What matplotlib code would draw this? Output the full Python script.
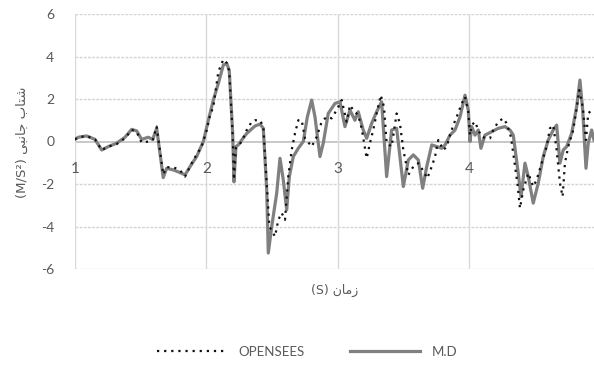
import matplotlib
matplotlib.use("Agg")
import matplotlib.pyplot as plt
from matplotlib.lines import Line2D

plt.rcParams['font.family'] = ['Lato', 'DejaVu Sans']

# ---- data ----
time_md = [1.000, 1.025, 1.089, 1.152, 1.203, 1.253, 1.317, 1.380, 1.431, 1.469,
           1.507, 1.557, 1.591, 1.621, 1.671, 1.697, 1.748, 1.798, 1.837, 1.875,
           1.925, 1.976, 2.014, 2.052, 2.090, 2.128, 2.154, 2.173, 2.199, 2.209,
           2.224, 2.242, 2.268, 2.306, 2.369, 2.407, 2.432, 2.458, 2.470, 2.496,
           2.534, 2.559, 2.584, 2.610, 2.630, 2.660, 2.698, 2.736, 2.767, 2.800,
           2.825, 2.863, 2.888, 2.926, 2.977, 3.015, 3.053, 3.091, 3.129, 3.154,
           3.192, 3.218, 3.256, 3.294, 3.332, 3.370, 3.408, 3.446, 3.471, 3.497,
           3.535, 3.573, 3.611, 3.644, 3.675, 3.713, 3.751, 3.789, 3.814, 3.852,
           3.890, 3.928, 3.966, 3.991, 4.004, 4.017, 4.042, 4.067, 4.087, 4.118,
           4.169, 4.219, 4.270, 4.308, 4.333, 4.371, 4.392, 4.422, 4.447, 4.485,
           4.523, 4.561, 4.599, 4.637, 4.663, 4.688, 4.713, 4.739, 4.777, 4.815,
           4.840, 4.861, 4.886, 4.903, 4.929, 4.947]
accel_md = [0.10, 0.20, 0.26, 0.10, -0.40, -0.24, -0.08, 0.20, 0.57, 0.50,
            0.10, 0.20, 0.10, 0.62, -1.70, -1.26, -1.34, -1.46, -1.57, -1.18,
            -0.71, 0.00, 1.00, 1.95, 2.73, 3.60, 3.67, 3.35, 0.40, -1.90,
            -0.24, -0.16, 0.07, 0.38, 0.73, 0.82, 0.62, -2.28, -5.25, -4.00,
            -2.43, -0.79, -1.81, -3.22, -1.65, -0.71, -0.32, 0.00, 1.16, 1.95,
            1.16, -0.71, -0.08, 1.32, 1.79, 1.87, 0.70, 1.48, 1.00, 1.40,
            0.54, 0.15, 0.85, 1.40, 1.87, -1.65, 0.54, 0.62, -0.71, -2.12,
            -0.87, -0.63, -0.87, -2.20, -1.18, -0.16, -0.24, -0.32, -0.16, 0.30,
            0.54, 1.16, 2.18, 1.48, 0.00, 0.70, 0.30, 0.54, -0.32, 0.30,
            0.46, 0.62, 0.70, 0.54, 0.30, -1.50, -2.60, -1.02, -1.65, -2.90,
            -1.96, -0.71, 0.07, 0.54, 0.77, -1.02, -0.40, -0.24, 0.38, 1.63,
            2.89, 1.48, -1.26, -0.08, 0.54, 0.07]

time_os = [1.000, 1.025, 1.089, 1.152, 1.203, 1.253, 1.317, 1.380, 1.431, 1.469,
           1.507, 1.557, 1.591, 1.621, 1.671, 1.697, 1.748, 1.798, 1.837, 1.900,
           1.963, 2.002, 2.027, 2.052, 2.090, 2.128, 2.154, 2.173, 2.199, 2.209,
           2.224, 2.242, 2.268, 2.306, 2.344, 2.369, 2.407, 2.432, 2.458, 2.478,
           2.521, 2.546, 2.572, 2.597, 2.622, 2.648, 2.673, 2.698, 2.724, 2.749,
           2.800, 2.838, 2.876, 2.914, 2.952, 2.990, 3.028, 3.066, 3.091, 3.116,
           3.154, 3.180, 3.218, 3.243, 3.268, 3.294, 3.325, 3.350, 3.370, 3.408,
           3.446, 3.471, 3.497, 3.535, 3.573, 3.611, 3.644, 3.679, 3.713, 3.738,
           3.763, 3.801, 3.827, 3.852, 3.877, 3.903, 3.941, 3.966, 3.991, 4.004,
           4.017, 4.042, 4.067, 4.093, 4.131, 4.156, 4.181, 4.219, 4.257, 4.283,
           4.315, 4.340, 4.365, 4.384, 4.409, 4.447, 4.485, 4.511, 4.549, 4.587,
           4.612, 4.637, 4.663, 4.688, 4.708, 4.726, 4.751, 4.789, 4.815, 4.835,
           4.861, 4.886, 4.903, 4.929, 4.947]
accel_os = [0.10, 0.20, 0.26, 0.10, -0.40, -0.24, -0.12, 0.15, 0.55, 0.45,
            -0.05, 0.00, 0.05, 0.70, -1.55, -1.21, -1.21, -1.35, -1.65, -0.87,
            -0.24, 0.54, 1.24, 1.63, 3.28, 3.86, 3.70, 3.30, 0.30, -1.80,
            -0.30, -0.20, 0.00, 0.54, 0.93, 1.00, 1.00, 0.70, -2.00, -4.00,
            -4.47, -3.69, -3.36, -3.69, -1.65, -0.40, 0.38, 1.00, 1.00, 0.15,
            -0.24, 0.22, 0.93, 1.16, 1.09, 1.48, 1.95, 0.93, 1.71, 1.48,
            1.24, 0.62, -0.79, -0.08, 0.54, 1.32, 2.18, 1.63, -0.08, -0.24,
            1.32, 0.85, -0.40, -1.57, -1.18, -1.02, -1.34, -1.73, -1.18, -0.71,
            0.07, -0.40, -0.24, 0.30, 0.77, 1.16, 1.79, 2.10, 1.40, 0.30,
            0.77, 0.93, 0.54, 0.22, 0.15, 0.15, 0.54, 0.93, 1.09, 0.85,
            0.22, -0.87, -2.00, -3.14, -2.28, -1.49, -2.12, -1.80, -1.02, -0.24,
            0.62, 0.77, -0.40, -1.96, -2.59, -1.02, -0.24, 0.54, 1.56, 2.42,
            1.63, 0.07, 1.32, 1.48, 1.56]

y_ticks = [-6, -4, -2, 0, 2, 4, 6]
x_ticks = [1, 2, 3, 4]
label_os = "OPENSEES"
label_md = "M.D"
# Persian labels in visual (presentation-form) order
xlabel_text = "(S) \uFEE5\uFE8E\uFEE3\uFEAF"            # زمان (S)
ylabel_text = "(M/S\u00B2) \uFEF0\uFE92\uFEE7\uFE8E\uFE9F \uFE8F\uFE8E\uFE98\uFEB7"  # شتاب جانبی (M/S²)

# ---- figure ----
W, H = 594, 365
fig = plt.figure(figsize=(W / 100, H / 100), dpi=100)
ax = fig.add_axes([75 / W, (H - 269) / H, (W - 75) / W, 255 / H])

grey_txt = "#595959"

# grid
for yv in y_ticks:
    if yv == 0:
        ax.axhline(yv, color="#bfbfbf", lw=1.2, zorder=1)
    else:
        ax.axhline(yv, color="#d4d4d4", lw=1.0, ls=(0, (2, 1)), zorder=1)
for xv in x_ticks:
    ax.axvline(xv, color="#d9d9d9", lw=1.0, zorder=1)

ax.plot(time_md, accel_md, color="#808080", lw=2.3, solid_joinstyle="round", zorder=3)
ax.plot(time_os, accel_os, color="#111111", lw=1.6, ls=(0, (1, 2.2)), zorder=4)

ax.set_xlim(1, 4.947)
ax.set_ylim(-6, 6)

for s in ax.spines.values():
    s.set_visible(False)
ax.spines['bottom'].set_position(('data', 0))

ax.set_yticks(y_ticks)
ax.set_yticklabels([str(v) for v in y_ticks])
ax.set_xticks(x_ticks)
ax.set_xticklabels([str(v) for v in x_ticks])
ax.tick_params(axis='y', length=0, pad=15, labelsize=10, labelcolor=grey_txt)
ax.tick_params(axis='x', length=0, pad=15, labelsize=11, labelcolor=grey_txt)

fig.text(335 / W, 1 - 290 / H, xlabel_text, ha="center", va="center",
         fontsize=9, color=grey_txt, family=['DejaVu Sans'])
fig.text(22 / W, 1 - 142 / H, ylabel_text, ha="center", va="center",
         rotation=90, fontsize=9.5, color=grey_txt, family=['DejaVu Sans'])

handles = [Line2D([], [], color="#111111", lw=1.6, ls=(0, (1, 2.2))),
           Line2D([], [], color="#808080", lw=2.3)]
fig.legend(handles, [label_os, label_md], loc="center",
           bbox_to_anchor=(307 / W, 1 - 352 / H), ncol=2, frameon=False,
           fontsize=9.5, handlelength=5.3, columnspacing=3.4, handletextpad=0.9,
           labelcolor=grey_txt)

fig.savefig("out.png", dpi=100)
